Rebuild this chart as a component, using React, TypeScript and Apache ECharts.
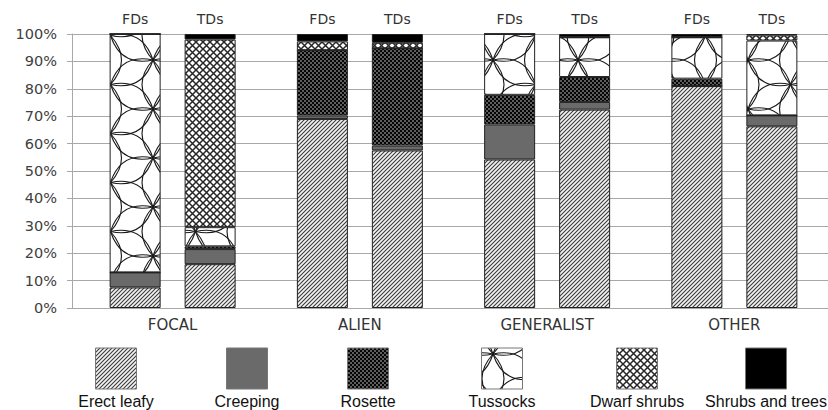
import { useEffect, useRef } from 'react';
import * as echarts from 'echarts';

// Species groups and the two survey periods
const groups = ['FOCAL', 'ALIEN', 'GENERALIST', 'OTHER'];
const periods = ['FDs', 'TDs'];
const growthForms = ['Erect leafy', 'Creeping', 'Rosette', 'Tussocks', 'Dwarf shrubs', 'Shrubs and trees'];

// Share of species (%) per growth form, FDs
const erectLeafyFDs = [7.5, 69, 54.2, 81];
const creepingFDs = [5.5, 1.3, 12.8, 0];
const rosetteFDs = [0, 23.8, 10.8, 2.7];
const tussocksFDs = [87, 0, 22.2, 15.1];
const dwarfShrubsFDs = [0, 3.2, 0, 0];
const shrubsTreesFDs = [0, 2.7, 0, 1.2];

// Share of species (%) per growth form, TDs
const erectLeafyTDs = [16, 57.5, 72.4, 66.3];
const creepingTDs = [5.5, 1.8, 2.8, 4];
const rosetteTDs = [1, 35.5, 9.1, 0];
const tussocksTDs = [7, 0, 14.5, 27.3];
const dwarfShrubsTDs = [68.5, 2, 0, 1.9];
const shrubsTreesTDs = [2, 3.2, 1.2, 0.5];

type Draw = (ctx: CanvasRenderingContext2D, w: number, h: number) => void;

function tile(w: number, h: number, draw: Draw) {
  const c = document.createElement('canvas');
  c.width = w;
  c.height = h;
  const ctx = c.getContext('2d') as CanvasRenderingContext2D;
  draw(ctx, w, h);
  return { image: c, repeat: 'repeat', imageWidth: w, imageHeight: h } as any;
}

// one almond-shaped leaf between two points
function leaf(ctx: CanvasRenderingContext2D, ax: number, ay: number, bx: number, by: number, bulge: number) {
  const mx = (ax + bx) / 2;
  const my = (ay + by) / 2;
  const len = Math.hypot(bx - ax, by - ay);
  const nx = -(by - ay) / len;
  const ny = (bx - ax) / len;
  ctx.beginPath();
  ctx.moveTo(ax, ay);
  ctx.quadraticCurveTo(mx + nx * bulge * 2, my + ny * bulge * 2, bx, by);
  ctx.quadraticCurveTo(mx - nx * bulge * 2, my - ny * bulge * 2, ax, ay);
  ctx.stroke();
}

function makeFills() {
  // fine diagonal hatching
  const hatch = tile(4, 4, (ctx, w, h) => {
    ctx.fillStyle = '#f4f4f4';
    ctx.fillRect(0, 0, w, h);
    ctx.strokeStyle = '#3a3a3a';
    ctx.lineWidth = 1.1;
    ctx.beginPath();
    ctx.moveTo(-1, h + 1); ctx.lineTo(w + 1, -1);
    ctx.moveTo(-1, 1); ctx.lineTo(1, -1);
    ctx.moveTo(w - 1, h + 1); ctx.lineTo(w + 1, h - 1);
    ctx.stroke();
  });
  // white dots on black
  const dots = tile(4, 4, (ctx, w, h) => {
    ctx.fillStyle = '#050505';
    ctx.fillRect(0, 0, w, h);
    ctx.fillStyle = '#e0e0e0';
    ctx.beginPath();
    ctx.arc(1, 1, 0.75, 0, Math.PI * 2);
    ctx.arc(3, 3, 0.75, 0, Math.PI * 2);
    ctx.fill();
  });
  // leaves radiating from star points on a hexagonal lattice
  const petals = tile(85, 49, (ctx, w, h) => {
    ctx.fillStyle = '#ffffff';
    ctx.fillRect(0, 0, w, h);
    ctx.strokeStyle = '#1a1a1a';
    ctx.lineWidth = 1.1;
    const dx = w / 2;
    const dy = h;
    const ox = 68;
    const oy = 11;
    const bulge = 11;
    for (let i = -3; i <= 4; i++) {
      for (let j = -2; j <= 3; j++) {
        const px = ox + i * dx;
        const py = oy + j * dy + (Math.abs(i) % 2 === 1 ? dy / 2 : 0);
        leaf(ctx, px, py, px, py + dy, bulge);
        leaf(ctx, px, py, px + dx, py + dy / 2, bulge);
        leaf(ctx, px, py, px + dx, py - dy / 2, bulge);
      }
    }
  });
  // diagonal cross-hatching
  const lattice = tile(7, 7, (ctx, w, h) => {
    ctx.fillStyle = '#ffffff';
    ctx.fillRect(0, 0, w, h);
    ctx.strokeStyle = '#262626';
    ctx.lineWidth = 1.5;
    ctx.beginPath();
    ctx.moveTo(0, 0); ctx.lineTo(w, h);
    ctx.moveTo(0, h); ctx.lineTo(w, 0);
    ctx.stroke();
  });
  return [hatch, '#6a6a6a', dots, petals, lattice, '#000000'];
}

const legendCenters = [116, 247, 368, 502, 637, 766];

export default function App() {
  const ref = useRef<HTMLDivElement>(null);

  useEffect(() => {
    const chart = echarts.init(ref.current as HTMLDivElement, null, { renderer: 'svg' });
    const fills = makeFills();
    const stacks = [
      [erectLeafyFDs, creepingFDs, rosetteFDs, tussocksFDs, dwarfShrubsFDs, shrubsTreesFDs],
      [erectLeafyTDs, creepingTDs, rosetteTDs, tussocksTDs, dwarfShrubsTDs, shrubsTreesTDs],
    ];
    const axisGray = '#a8a8a8';
    const series: any[] = [];
    stacks.forEach((set, k) => {
      set.forEach((values, i) => {
        const isTop = i === set.length - 1;
        series.push({
          type: 'bar',
          name: growthForms[i],
          stack: periods[k],
          data: values,
          xAxisIndex: 0,
          yAxisIndex: 0,
          barWidth: 51,
          barGap: '47%',
          silent: true,
          itemStyle: { color: fills[i], borderColor: '#222', borderWidth: 1 },
          label: isTop
            ? {
                show: true,
                position: 'top',
                distance: 8,
                formatter: periods[k],
                fontFamily: 'DejaVu Sans',
                fontSize: 14,
                color: '#333',
              }
            : { show: false },
        });
      });
    });

    chart.setOption({
      animation: false,
      grid: [
        { left: 79, top: 34, width: 753, height: 274 },
        { left: 72, top: 34, right: 0, height: 274 },
      ],
      xAxis: [
        {
          type: 'category',
          gridIndex: 0,
          data: groups,
          axisLine: { show: false },
          axisTick: { show: false },
          axisLabel: { margin: 9, fontFamily: 'DejaVu Sans', fontSize: 15, color: '#333' },
        },
        { type: 'value', gridIndex: 1, min: 0, max: 1, show: false },
      ],
      yAxis: [
        { type: 'value', gridIndex: 0, min: 0, max: 100, show: false },
        {
          type: 'value',
          gridIndex: 1,
          min: 0,
          max: 100,
          interval: 10,
          axisLine: { show: true, lineStyle: { color: axisGray } },
          axisTick: { show: true, length: 5, lineStyle: { color: axisGray } },
          splitLine: { show: true, lineStyle: { color: axisGray, width: 1 } },
          axisLabel: {
            formatter: '{value}%',
            margin: 15,
            fontFamily: 'DejaVu Sans',
            fontSize: 14.5,
            color: '#404040',
          },
        },
      ],
      series,
      graphic: growthForms.flatMap((name, i) => [
        {
          type: 'rect',
          silent: true,
          shape: { x: legendCenters[i] - 20.5, y: 348, width: 41, height: 41 },
          style: { fill: fills[i], stroke: '#777', lineWidth: 1 },
        },
        {
          type: 'text',
          silent: true,
          x: legendCenters[i],
          y: 401,
          style: {
            text: name,
            fill: '#111',
            fontFamily: 'Liberation Sans',
            fontSize: 16,
            align: 'center',
            verticalAlign: 'middle',
          },
        },
      ]),
    });

    return () => chart.dispose();
  }, []);

  return (
    <div
      ref={ref}
      style={{ position: 'absolute', left: 0, top: 0, width: 828, height: 410 }}
    />
  );
}
